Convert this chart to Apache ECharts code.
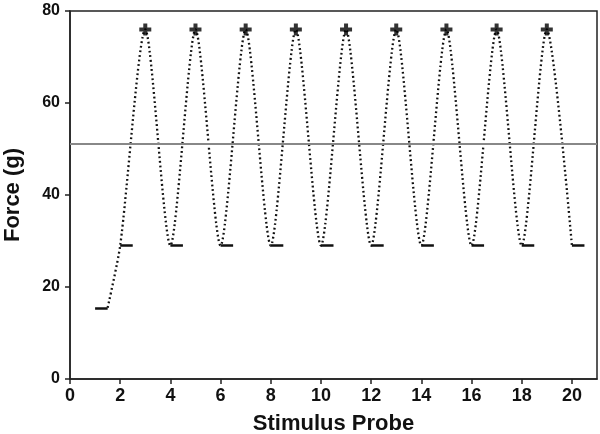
<!DOCTYPE html>
<html>
<head>
<meta charset="utf-8">
<script src="https://cdn.jsdelivr.net/npm/echarts@6/dist/echarts.min.js"></script>
<style>
  html, body { margin: 0; padding: 0; background: #fff; }
  #main { width: 600px; height: 434px; }
</style>
</head>
<body>
<div id="main"></div>
<script>
// 数据
const curveX = [1.5, 2, 3, 4, 5, 6, 7, 8, 9, 10, 11, 12, 13, 14, 15, 16, 17, 18, 19, 20];
const curveY = [15.5, 29, 76, 29, 76, 29, 76, 29, 76, 29, 76, 29, 76, 29, 76, 29, 76, 29, 76, 29];
const dashX = [1, 2, 4, 6, 8, 10, 12, 14, 16, 18, 20];
const dashY = [15.4, 29, 29, 29, 29, 29, 29, 29, 29, 29, 29];
const peakX = [3, 5, 7, 9, 11, 13, 15, 17, 19];
const peakY = [76, 76, 76, 76, 76, 76, 76, 76, 76];
const thresholdY = 51.2;
const xTicks = [0, 2, 4, 6, 8, 10, 12, 14, 16, 18, 20];
const yTicks = [0, 20, 40, 60, 80];

const dashLen = 0.5; // 横短线长度（x 单位）
const font = 'Liberation Sans, Arial, sans-serif';

let myChart = echarts.init(document.getElementById('main'));

const curveData = curveX.map((x, i) => [x, curveY[i]]);
const peakData = peakX.map((x, i) => [x, peakY[i]]);
const dashLines = dashX.map((x, i) => [
  { coord: [x, dashY[i]] },
  { coord: [x + dashLen, dashY[i]] }
]);

myChart.setOption({
  animation: false,
  grid: {
    left: 70, right: 3, top: 11, bottom: 55,
    outerBoundsMode: 'none', //不让标签挤压绘图区
    containLabel: false,
    show: true,
    borderColor: '#222',
    borderWidth: 1.5
  },
  xAxis: {
    type: 'value',
    min: 0, max: 21, interval: 2,
    name: 'Stimulus Probe',
    nameLocation: 'middle',
    nameGap: 34,
    nameTextStyle: { fontFamily: font, fontWeight: 'bold', fontSize: 22, color: '#111' },
    axisLine: { lineStyle: { color: '#222', width: 1.5 } },
    axisTick: { show: true, length: 5, lineStyle: { color: '#222', width: 1.5 },
      customValues: xTicks },
    axisLabel: { fontFamily: font, fontWeight: 'bold', fontSize: 18, color: '#111', margin: 8,
      customValues: xTicks },
    splitLine: { show: false }
  },
  yAxis: {
    type: 'value',
    min: 0, max: 80, interval: 20,
    name: 'Force (g)',
    nameLocation: 'middle',
    nameGap: 46,
    nameRotate: 90,
    nameTextStyle: { fontFamily: font, fontWeight: 'bold', fontSize: 22, color: '#111' },
    axisLine: { show: true, lineStyle: { color: '#222', width: 1.5 } },
    axisTick: { show: true, length: 5, lineStyle: { color: '#222', width: 1.5 },
      customValues: yTicks },
    axisLabel: { fontFamily: font, fontWeight: 'bold', fontSize: 16, color: '#111', margin: 10,
      customValues: yTicks },
    splitLine: { show: false }
  },
  series: [
    {
      name: 'curve',
      type: 'line',
      data: curveData,
      smooth: 0.25,
      showSymbol: false,
      lineStyle: { color: '#111', width: 2.3, type: [1.8, 2.8] },
      markLine: {
        silent: true,
        symbol: 'none',
        label: { show: false },
        lineStyle: { color: '#888', width: 2, type: 'solid' },
        data: [{ yAxis: thresholdY }]
      },
      z: 3
    },
    {
      name: 'dash',
      type: 'line',
      data: [],
      markLine: {
        silent: true,
        symbol: 'none',
        label: { show: false },
        lineStyle: { color: '#111', width: 2.5, type: 'solid' },
        data: dashLines
      },
      z: 4
    },
    {
      name: 'peak',
      type: 'scatter',
      data: peakData,
      symbol: 'path://M4,0H8V4H12V8H8V12H4V8H0V4H4Z',
      symbolSize: 12,
      itemStyle: { color: '#000' },
      z: 5
    }
  ]
});
</script>
</body>
</html>
